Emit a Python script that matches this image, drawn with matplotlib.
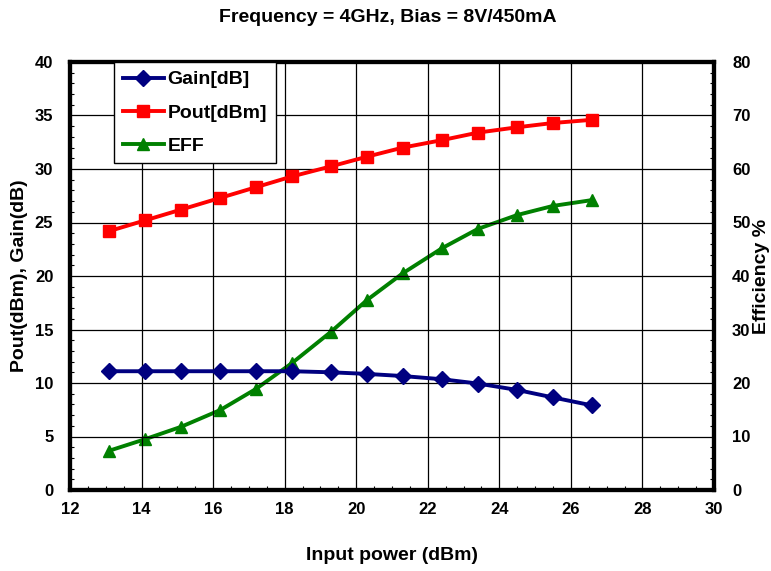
import matplotlib
matplotlib.use("Agg")
import matplotlib.pyplot as plt
from matplotlib.ticker import MultipleLocator

plt.rcParams['font.family'] = ['Liberation Sans', 'DejaVu Sans']
plt.rcParams['font.weight'] = 'bold'

title = "Frequency = 4GHz, Bias = 8V/450mA"
pin = [13.1, 14.1, 15.1, 16.2, 17.2, 18.2, 19.3, 20.3, 21.3, 22.4, 23.4, 24.5, 25.5, 26.6]
gain = [11.1, 11.1, 11.1, 11.1, 11.1, 11.1, 11.0, 10.85, 10.65, 10.35, 9.95, 9.35, 8.65, 7.9]
pout = [24.2, 25.2, 26.2, 27.3, 28.3, 29.3, 30.25, 31.15, 32.0, 32.7, 33.4, 33.9, 34.3, 34.6]
eff = [7.35, 9.5, 11.8, 14.95, 18.9, 23.7, 29.6, 35.5, 40.5, 45.2, 48.8, 51.4, 53.1, 54.2]

fig = plt.figure(figsize=(7.71, 5.71), dpi=100)
ax = fig.add_axes([70/771, 1-490/571, (714-70)/771, (490-62)/571])
ax2 = ax.twinx()

l1, = ax.plot(pin, gain, color='#000080', marker='D', markersize=8.5, lw=2.8, label='Gain[dB]')
l2, = ax.plot(pin, pout, color='#FF0000', marker='s', markersize=8.5, lw=2.8, label='Pout[dBm]')
l3, = ax2.plot(pin, eff, color='#008000', marker='^', markersize=9, lw=2.8, label='EFF')

ax.set_xlim(12, 30)
ax.set_ylim(0, 40)
ax2.set_ylim(0, 80)
ax.xaxis.set_major_locator(MultipleLocator(2))
ax.xaxis.set_minor_locator(MultipleLocator(0.5))
ax.yaxis.set_major_locator(MultipleLocator(5))
ax.yaxis.set_minor_locator(MultipleLocator(1))
ax2.yaxis.set_major_locator(MultipleLocator(10))
ax2.yaxis.set_minor_locator(MultipleLocator(2))

ax.grid(True, which='major', color='black', lw=0.9)
ax.set_axisbelow(True)

for a in (ax, ax2):
    for s in a.spines.values():
        s.set_linewidth(3.0)
ax.tick_params(which='major', direction='in', length=0, labelsize=12, pad=12)
ax.tick_params(which='minor', direction='in', length=3, width=0.8)
ax.tick_params(axis='x', which='major', pad=9)
ax2.tick_params(which='major', direction='in', length=0, labelsize=12, pad=13)
ax2.tick_params(which='minor', direction='in', length=3, width=0.8)
for lab in ax.get_xticklabels() + ax.get_yticklabels() + ax2.get_yticklabels():
    lab.set_fontweight('bold')

fig.text(20/771, 1-276/571, 'Pout(dBm), Gain(dB)', rotation=90, ha='center', va='center',
         fontsize=14, fontweight='bold')
fig.text(762/771, 1-276/571, 'Efficiency %', rotation=90, ha='center', va='center',
         fontsize=14, fontweight='bold')
fig.text(392/771, 1-555/571, 'Input power (dBm)', ha='center', va='center', fontsize=14, fontweight='bold')
fig.text(388/771, 1-18/571, title, ha='center', va='center', fontsize=14, fontweight='bold')

leg = ax.legend(handles=[l1, l2, l3], loc='upper left', bbox_to_anchor=((114-70)/644, 1.0),
                fancybox=False, framealpha=1, edgecolor='black', fontsize=14,
                handlelength=2.1, handletextpad=0.2, labelspacing=0.8, borderpad=0.45,
                borderaxespad=0)
leg.get_frame().set_linewidth(1.0)
for t in leg.get_texts():
    t.set_fontweight('bold')
ax.set_zorder(ax2.get_zorder() + 1)
ax.patch.set_visible(False)

fig.savefig('out.png', dpi=100)
